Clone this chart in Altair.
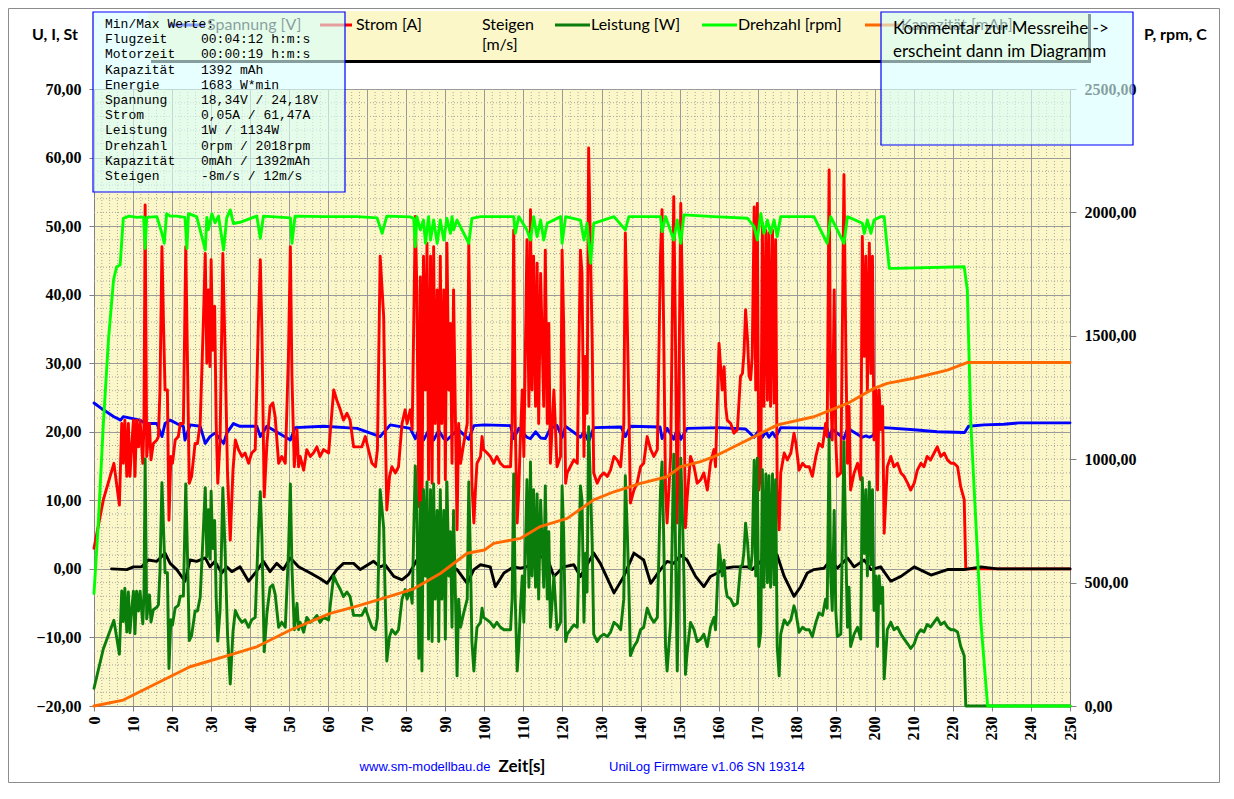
import altair as alt
import pandas as pd

# ---------------- data ----------------
t_strom = [
    0, 2.4, 5.1, 6.5, 7.1, 7.5, 7.9, 8.4, 8.8, 9.2, 9.7, 10.1, 10.5, 10.9, 11.4, 11.8, 12.5, 12.8, 13.1, 13.5,
    14.2, 14.6, 15.2, 16.1, 16.5, 16.9, 17.4, 17.8, 18.2, 18.8, 19.2, 19.7, 20.1, 20.8, 21.6, 22.1, 22.9, 23.5, 24.0, 24.4,
    25.0, 25.9, 26.5, 27.2, 28.0, 28.5, 28.9, 29.3, 29.7, 30.0, 30.4, 30.9, 31.3, 31.7, 32.3, 33.0, 33.6, 34.2, 34.9, 35.6,
    36.2, 37.0, 37.9, 38.7, 39.6, 40.4, 41.3, 42.1, 42.6, 43.0, 43.6, 44.3, 45.1, 45.8, 46.4, 47.3, 48.1, 49.0, 49.8, 50.3,
    50.7, 51.3, 52.0, 52.4, 52.8, 53.7, 54.5, 55.4, 56.2, 57.1, 57.9, 58.8, 60.1, 60.7, 61.4, 62.2, 63.1, 63.9, 64.8, 65.6,
    66.5, 67.4, 68.6, 69.5, 70.3, 71.2, 72.1, 72.6, 73.3, 73.8, 74.2, 74.6, 75.0, 75.7, 76.3, 77.2, 78.0, 78.9, 79.7, 80.2,
    81.0, 81.5, 81.9, 82.3, 82.7, 83.2, 83.6, 84.0, 84.4, 84.9, 85.3, 85.7, 86.2, 86.6, 87.0, 87.4, 87.9, 88.3, 88.7, 89.1,
    89.6, 90.0, 90.4, 90.9, 91.3, 91.7, 92.1, 92.6, 93.0, 93.4, 93.9, 94.7, 95.6, 96.0, 96.4, 96.8, 97.3, 97.7, 98.1, 99.0,
    99.4, 99.8, 100.7, 101.5, 102.4, 103.2, 104.1, 105.0, 105.8, 106.7, 107.1, 107.5, 107.9, 108.4, 108.8, 109.2, 109.7, 110.1, 110.9, 111.4,
    111.8, 112.2, 112.6, 113.1, 113.5, 113.9, 114.4, 115.2, 115.6, 116.1, 116.5, 116.9, 117.8, 118.6, 119.5, 119.9, 120.3, 120.8, 121.2, 122.0,
    122.9, 123.8, 124.6, 125.0, 125.5, 125.9, 126.3, 126.7, 127.2, 127.6, 128.0, 128.9, 129.7, 130.6, 131.5, 132.3, 133.2, 134.0, 134.9, 135.7,
    136.1, 136.6, 137.0, 137.4, 138.3, 139.1, 140.0, 140.8, 141.7, 142.6, 143.4, 144.3, 145.1, 145.5, 145.9, 146.4, 146.8, 147.7, 148.5, 148.9,
    149.4, 149.8, 150.3, 150.7, 151.1, 151.5, 151.9, 152.8, 153.7, 154.5, 155.4, 156.2, 157.1, 157.9, 158.8, 159.2, 160.1, 160.5, 160.9, 161.4,
    161.8, 162.2, 163.1, 163.9, 164.8, 165.2, 165.6, 166.1, 166.5, 166.9, 167.4, 167.8, 168.2, 168.6, 169.1, 169.5, 169.9, 170.3, 170.8, 171.2,
    171.6, 172.1, 172.5, 172.9, 173.3, 173.8, 174.2, 174.6, 175.0, 175.5, 175.9, 176.8, 177.6, 178.5, 179.3, 179.8, 180.6, 181.5, 182.3, 183.2,
    184.0, 184.9, 185.7, 186.6, 187.4, 187.8, 188.3, 188.7, 189.1, 189.6, 190.0, 190.4, 191.3, 192.1, 192.6, 193.0, 193.4, 193.8, 194.7, 195.6,
    196.4, 196.8, 197.3, 197.7, 198.1, 198.6, 199.0, 199.4, 199.8, 200.3, 200.7, 201.1, 201.6, 202.0, 202.4, 203.2, 204.1, 204.9, 205.8, 206.7,
    207.5, 208.4, 209.2, 210.1, 210.9, 211.8, 212.6, 213.4, 214.3, 215.2, 216.0, 216.9, 217.8, 218.6, 219.5, 220.3, 221.2, 222.0, 222.9, 223.3,
    237.0, 250.0]

strom = [
    3.0, 10.1, 15.4, 9.3, 21.2, 15.4, 21.7, 13.5, 21.2, 13.5, 18.3, 21.7, 13.5, 21.7, 17.8, 21.7, 15.4, 21.2, 53.1, 16.4,
    21.2, 15.9, 18.3, 18.8, 19.3, 26.1, 47.0, 35.8, 26.1, 26.1, 7.1, 16.4, 15.4, 18.8, 19.3, 21.2, 21.2, 47.0, 28.1, 12.5,
    13.5, 18.3, 18.3, 21.2, 35.8, 46.0, 30.0, 40.7, 29.5, 45.1, 31.9, 38.3, 21.2, 12.5, 18.8, 46.0, 31.0, 14.0, 4.2, 14.4,
    18.8, 17.4, 16.4, 16.9, 15.4, 16.9, 17.4, 35.8, 45.1, 34.9, 10.5, 18.3, 23.7, 24.2, 22.2, 15.4, 16.4, 15.4, 31.0, 47.0,
    28.1, 14.9, 20.3, 14.9, 16.4, 14.4, 17.4, 16.4, 16.9, 17.8, 16.4, 17.4, 16.9, 21.2, 26.1, 24.6, 23.2, 21.7, 22.7, 21.7,
    17.8, 17.8, 17.8, 19.3, 17.4, 15.4, 14.9, 17.4, 45.6, 40.7, 36.8, 21.2, 8.6, 13.5, 14.9, 14.0, 14.9, 21.2, 23.2, 21.2,
    23.2, 20.3, 35.8, 51.4, 40.7, 9.1, 42.6, 6.7, 45.6, 26.1, 47.5, 13.0, 45.6, 12.5, 47.0, 21.2, 40.7, 12.5, 45.6, 21.2,
    40.7, 13.0, 47.5, 26.1, 35.8, 15.4, 40.7, 21.2, 5.7, 21.2, 15.4, 18.3, 21.2, 47.5, 31.0, 12.5, 6.7, 11.5, 15.4, 16.4,
    19.3, 17.4, 16.9, 16.4, 15.4, 16.4, 15.4, 14.9, 14.9, 14.9, 21.2, 49.4, 21.2, 6.7, 11.5, 18.8, 26.1, 16.4, 48.0, 23.7,
    52.4, 26.1, 45.6, 23.7, 44.6, 21.2, 43.1, 23.7, 46.5, 21.2, 35.8, 15.4, 26.1, 14.9, 16.4, 46.5, 35.8, 12.5, 14.0, 14.9,
    15.9, 15.4, 46.5, 43.1, 16.4, 31.0, 22.7, 61.4, 45.6, 33.4, 14.0, 12.5, 13.5, 14.0, 13.5, 14.4, 16.4, 15.9, 14.9, 21.2,
    49.0, 35.8, 23.7, 9.6, 11.5, 12.5, 14.9, 15.4, 19.3, 17.4, 16.4, 17.4, 45.6, 52.4, 35.8, 11.5, 6.7, 16.4, 54.3, 35.8,
    6.7, 26.1, 53.3, 40.7, 26.1, 6.0, 10.1, 16.4, 14.9, 12.5, 13.0, 14.0, 11.5, 15.4, 17.4, 14.9, 32.9, 29.5, 26.1, 29.5,
    23.7, 21.7, 21.2, 19.8, 20.3, 24.2, 28.1, 28.5, 31.5, 37.8, 33.4, 28.1, 27.6, 31.0, 52.8, 26.1, 53.3, 11.5, 14.4, 50.4,
    23.7, 49.4, 24.6, 49.0, 23.7, 49.4, 24.2, 48.0, 11.5, 5.7, 14.0, 16.9, 15.9, 16.9, 19.8, 18.3, 14.4, 15.4, 14.9, 14.9,
    13.5, 16.4, 18.3, 17.8, 21.2, 19.3, 58.2, 26.1, 18.8, 40.7, 18.8, 13.5, 14.0, 57.5, 31.0, 15.4, 23.7, 11.5, 14.0, 15.4,
    13.0, 48.5, 31.0, 45.6, 26.1, 47.5, 28.5, 45.6, 18.8, 26.1, 11.5, 26.1, 20.3, 23.7, 5.2, 14.9, 16.4, 14.9, 15.4, 14.0,
    13.5, 12.5, 11.5, 12.5, 14.4, 15.4, 14.9, 16.4, 15.9, 16.9, 17.8, 16.4, 16.9, 15.9, 15.4, 15.4, 14.9, 12.0, 10.1, 0.0,
    0.0, 0.0]

leistung = [
    72, 232, 347, 210, 466, 342, 477, 300, 462, 297, 399, 465, 293, 465, 385, 465, 333, 452, 1001, 353,
    450, 340, 390, 400, 410, 545, 905, 720, 540, 540, 152, 350, 328, 398, 408, 445, 445, 900, 575, 265,
    285, 385, 385, 440, 710, 885, 605, 795, 595, 870, 638, 752, 436, 263, 390, 884, 620, 292, 89, 300,
    387, 359, 339, 349, 319, 349, 359, 706, 868, 689, 220, 377, 481, 491, 453, 319, 339, 319, 618, 900,
    565, 309, 416, 309, 339, 299, 359, 339, 349, 367, 339, 359, 349, 433, 527, 499, 472, 443, 462, 443,
    367, 367, 367, 396, 359, 319, 309, 359, 876, 792, 723, 433, 182, 281, 309, 291, 309, 433, 472, 433,
    472, 416, 706, 973, 792, 193, 825, 142, 876, 527, 908, 271, 876, 261, 900, 433, 792, 261, 876, 433,
    792, 271, 908, 527, 706, 319, 792, 433, 122, 433, 319, 377, 433, 908, 618, 261, 142, 241, 319, 339,
    396, 359, 349, 339, 319, 339, 319, 309, 309, 309, 433, 940, 433, 142, 241, 387, 527, 339, 917, 481,
    989, 527, 876, 481, 859, 433, 834, 481, 892, 433, 706, 319, 527, 309, 339, 892, 706, 261, 291, 309,
    329, 319, 892, 834, 339, 618, 462, 1132, 876, 662, 291, 261, 281, 291, 281, 299, 339, 329, 309, 433,
    933, 706, 481, 204, 241, 261, 309, 319, 396, 359, 339, 359, 876, 989, 706, 241, 142, 339, 1020, 706,
    142, 527, 1004, 792, 527, 128, 212, 339, 309, 261, 271, 291, 241, 319, 359, 309, 653, 591, 527, 591,
    481, 443, 433, 406, 416, 491, 565, 572, 628, 741, 662, 565, 555, 618, 996, 527, 1004, 241, 299, 957,
    481, 940, 499, 933, 481, 940, 491, 917, 241, 122, 291, 349, 329, 349, 406, 377, 299, 319, 309, 309,
    281, 339, 377, 367, 433, 396, 1082, 527, 387, 792, 387, 281, 291, 1071, 618, 319, 481, 241, 291, 319,
    271, 925, 618, 876, 527, 908, 572, 876, 387, 527, 241, 527, 416, 481, 110, 309, 339, 309, 319, 291,
    272, 252, 233, 252, 290, 309, 300, 330, 320, 340, 357, 330, 340, 320, 309, 309, 300, 242, 204, 0,
    0, 0]

t_drehzahl = [
    0, 1.1, 2.4, 3.7, 5.0, 5.8, 6.7, 7.5, 9.0, 11.0, 12.7, 13.1, 13.5, 16.1, 17.4, 18.0, 18.6, 19.5, 21.2, 23.3,
    23.8, 24.2, 26.3, 28.5, 28.9, 29.3, 30.2, 31.0, 31.9, 33.2, 34.0, 34.9, 35.7, 37.4, 41.7, 42.6, 43.4, 50.3, 50.7, 51.5,
    58.8, 67.4, 72.5, 73.8, 75.0, 81.0, 81.9, 82.3, 82.7, 83.6, 84.4, 84.9, 85.7, 86.2, 87.0, 87.9, 88.7, 89.6, 90.4, 91.3,
    91.7, 92.1, 93.0, 96.0, 96.8, 99.0, 107.5, 107.9, 108.8, 110.9, 111.8, 112.6, 113.5, 114.4, 115.2, 116.1, 119.5, 119.9, 120.8, 124.6,
    125.5, 126.3, 127.2, 128.0, 133.2, 136.1, 137.0, 145.1, 145.5, 146.4, 148.5, 149.4, 150.3, 151.1, 158.8, 167.4, 169.1, 169.9, 170.8, 171.6,
    172.5, 173.3, 174.2, 175.0, 175.9, 184.4, 187.8, 188.7, 192.1, 193.0, 196.8, 197.3, 198.1, 199.0, 199.8, 201.5, 202.4, 203.7, 205.0, 222.9,
    223.7, 224.6, 227.2, 228.9, 250]
drehzahl = [
    456, 740, 1145, 1483, 1726, 1780, 1787, 1976, 1985, 1980, 1982, 1854, 1980, 1983, 1915, 1875, 1995, 1985, 1985, 1980,
    1854, 1995, 1983, 1848, 1980, 1930, 1995, 1958, 1985, 1848, 1978, 2010, 1955, 1960, 1985, 1895, 1985, 1978, 1875, 1985,
    1983, 1983, 1978, 1915, 1985, 1982, 1976, 1861, 1983, 1929, 1969, 1875, 1983, 1888, 1969, 1875, 1969, 1888, 1976, 1915,
    1983, 1929, 1969, 1875, 1976, 1983, 1983, 1915, 1983, 1929, 1888, 1983, 1902, 1969, 1888, 1956, 1983, 1875, 1983, 1969,
    1888, 1956, 1794, 1956, 1983, 1929, 1983, 1983, 1922, 1983, 1888, 1969, 1875, 1990, 1983, 1976, 1942, 1888, 1996, 1915,
    1969, 1915, 1969, 1902, 1983, 1983, 1875, 1983, 1875, 1983, 1956, 1915, 1969, 1915, 1969, 1983, 1983, 1773, 1773, 1780,
    1686, 1145, 335, 0, 0]

t_spannung = [
    0, 2.4, 5.1, 6.8, 7.5, 11.8, 13.1, 16.1, 17.4, 18.2, 19.5, 21.2, 22.9, 23.3, 24.6, 27.2, 28.5, 29.7, 31.0, 33.2,
    34.0, 35.7, 37.4, 41.7, 42.6, 44.3, 50.3, 51.5, 58.8, 67.4, 73.3, 75.9, 81.0, 82.3, 83.2, 84.4, 85.7, 87.0, 88.3, 89.6,
    90.4, 92.6, 93.0, 96.0, 97.3, 100, 106.7, 107.5, 108.8, 110.9, 111.8, 113.1, 114.4, 115.6, 116.9, 118.6, 119.9, 120.8, 124.6, 125.5,
    126.7, 128, 135, 136.1, 137.4, 145, 145.5, 146.8, 148.5, 149.4, 150.3, 151.9, 160, 166.9, 169.1, 170.3, 171.2, 172.1, 172.9, 173.8,
    174.6, 175.9, 187.8, 188.3, 189.1, 192.1, 193, 196.8, 197.7, 198.6, 199.4, 200.7, 202.4, 210, 216, 223, 224, 228, 233, 237,
    250]
spannung = [
    24.2, 23.2, 22.2, 21.7, 22.2, 21.7, 21.2, 21.2, 19.3, 21.2, 21.7, 21.2, 20.8, 18.8, 21.0, 20.8, 18.3, 19.3, 19.8, 18.3,
    19.8, 21.2, 20.8, 20.8, 19.3, 20.8, 18.8, 20.6, 20.8, 20.5, 19.3, 21.0, 20.5, 19.0, 20.3, 18.8, 20.2, 18.8, 20.2, 19.0,
    18.8, 20.0, 20.5, 18.9, 20.9, 21.0, 20.9, 19.0, 20.5, 19.2, 19.0, 20.0, 19.1, 19.0, 20.5, 20.9, 19.2, 20.8, 19.2, 20.0,
    18.6, 20.6, 20.7, 19.3, 20.8, 20.7, 19.0, 20.5, 18.9, 20.4, 18.9, 20.5, 20.6, 20.4, 19.2, 20.2, 19.2, 20.0, 19.2, 19.9,
    19.2, 20.6, 20.5, 19.0, 20.4, 19.0, 20.5, 19.2, 19.4, 19.2, 19.4, 20.4, 20.6, 20.3, 20.0, 19.9, 20.8, 21.0, 21.1, 21.3,
    21.3]

t_steigen = [
    4.5, 8.4, 10.1, 12.2, 13.9, 16.1, 18.2, 19.5, 21.2, 23.3, 24.6, 26.3, 28.5, 29.7, 31.0, 32.7, 34.0, 35.3, 37.4, 39.6,
    41.3, 43.4, 45.1, 46.8, 48.5, 50.3, 52.4, 55.4, 57.9, 59.7, 62.2, 63.9, 66.5, 68.2, 71.6, 73.3, 74.6, 76.8, 78.9, 80.6,
    82.7, 84.4, 87.0, 88.7, 90.4, 93.0, 95.6, 97.3, 99.0, 101.5, 102.8, 105.0, 107.5, 109.2, 110.9, 112.6, 114.4, 116.1, 117.8, 120.3,
    122.9, 124.6, 128.0, 129.7, 133.2, 135.7, 138.3, 140.8, 142.6, 145.1, 146.8, 148.5, 150.3, 151.9, 154.1, 156.2, 157.9, 159.7, 161.4, 163.9,
    167.4, 168.6, 170.8, 173.8, 175.0, 176.8, 179.3, 181.0, 182.7, 184.4, 187.0, 188.7, 190.4, 193.0, 194.7, 197.3, 199.0, 201.5, 204.1, 206.7,
    210.1, 214.4, 218.6, 222.9, 227.2, 231.4, 250]
steigen = [
    0, -0.1, 0.3, 0.3, 1.3, 1.1, 2.3, 0.8, -0.1, -1.8, 1.3, 1.1, 1.6, 0.3, 1.1, -0.6, 0.3, -0.4, 0.3, -1.8,
    -0.6, 1.1, -0.4, 0.8, -0.1, 1.6, 0.3, -0.6, -1.4, -2.1, -0.1, 0.8, 0.8, -0.1, 1.1, 0.3, 0.6, -1.1, -1.6, -0.8,
    1.3, 1.8, 0.8, -0.6, 0.6, -0.1, -2.1, -0.1, 0.6, 0.3, -2.6, -0.6, 0.3, 0.1, 0.3, 1.3, 1.8, 1.6, -1.1, 0.3,
    0.6, -1.1, 2.3, 0.8, -3.5, -1.1, 2.3, 1.3, -2.1, -0.1, 1.1, 0.8, 2.0, 1.3, -1.1, -2.6, -1.1, -0.6, 0.1, 0.3,
    0.3, -0.1, 1.1, 2.8, 2.0, -1.1, -4.0, -2.6, -0.6, -0.1, 0.1, 1.3, 0.1, 1.6, 0.3, 1.3, -0.1, 0.3, -1.8, -1.1,
    0.3, -0.9, -0.1, -0.1, 0.3, 0, 0]

t_kapazitaet = [0, 7.5, 16.1, 24.6, 34.9, 41.7, 50.3, 60.5, 67.4, 75.9, 81.9, 88.7, 95.6, 100, 102.4, 109.2, 114.3,
                121.2, 128, 133.2, 140, 146.8, 150.3, 155.4, 158.8, 167.4, 175.1, 184.4, 193, 199.8, 203.2, 210,
                218.6, 223.8, 250]
kapazitaet = [0, 24, 92, 159, 207, 240, 308, 375, 405, 445, 475, 537, 619, 632, 659, 679, 727,
              760, 835, 868, 902, 929, 970, 990, 1010, 1078, 1139, 1172, 1226, 1287, 1307, 1328,
              1361, 1392, 1392]

x_ticks = list(range(0, 251, 10))
yl_ticks = list(range(-20, 71, 10))
yr_ticks = list(range(0, 2501, 500))

legend_names = ["Spannung [V]", "Strom [A]", "Steigen", "Leistung [W]", "Drehzahl [rpm]", "Kapazität [mAh]"]
minmax_labels = ["Min/Max Werte:", "Flugzeit", "Motorzeit", "Kapazität", "Energie", "Spannung",
                 "Strom", "Leistung", "Drehzahl", "Kapazität", "Steigen"]
minmax_values = ["00:04:12 h:m:s", "00:00:19 h:m:s", "1392 mAh", "1683 W*min", "18,34V / 24,18V",
                 "0,05A / 61,47A", "1W / 1134W", "0rpm / 2018rpm", "0mAh / 1392mAh", "-8m/s / 12m/s"]

# ---------------- layout ----------------
W, H = 976, 617
PL, PT, PR, PB = 86, 81, 150, 77

XS = alt.Scale(domain=[0, 250], nice=False, zero=False)
YL = alt.Scale(domain=[-20, 70], nice=False, zero=False)
YR = alt.Scale(domain=[0, 2500], nice=False, zero=False)
FMT = "replace(format(datum.value, '.2f'), '.', ',')"
SERIF = "Liberation Serif"
SANS = "Lato"
GRID = "#9a9a9a"

x_ax = alt.Axis(values=x_ticks, labelAngle=-90, labelFont=SERIF, labelFontSize=16, labelFontWeight="bold",
                labelColor="#000000", labelPadding=5, tickSize=5, tickColor="#808080", domainColor="#808080",
                grid=True, gridColor=GRID, title=None, labelOverlap=False)
yl_ax = alt.Axis(values=yl_ticks, labelExpr=FMT, labelFont=SERIF, labelFontSize=16, labelFontWeight="bold",
                 labelColor="#000000", labelPadding=8, tickSize=5, tickColor="#808080", domainColor="#808080",
                 grid=True, gridColor=GRID, title=None)
yr_ax = alt.Axis(orient="right", values=yr_ticks, labelExpr=FMT, labelFont=SERIF, labelFontSize=16,
                 labelFontWeight="bold", labelColor="#000000", labelPadding=8, tickSize=6, tickColor="#808080",
                 domainColor="#808080", grid=False, title=None)

minor_t = [v for v in range(0, 251, 2) if v % 10]
minor_v = [v for v in range(-20, 71, 2) if v % 10]
MINOR = dict(color="#a9a9a0", strokeWidth=1, strokeDash=[1, 2])
vminor = alt.Chart(pd.DataFrame({"t": minor_t})).mark_rule(**MINOR).encode(
    x=alt.X("t:Q", scale=XS, axis=x_ax), y=alt.value(0), y2=alt.value(H))
hminor = alt.Chart(pd.DataFrame({"v": minor_v})).mark_rule(**MINOR).encode(
    y=alt.Y("v:Q", scale=YL, axis=yl_ax), x=alt.value(0), x2=alt.value(W))


def series(t, v, color, scale, axis, width=2.9):
    df = pd.DataFrame({"t": t, "v": v})
    return alt.Chart(df).mark_line(color=color, strokeWidth=width, strokeJoin="round", strokeCap="round").encode(
        x=alt.X("t:Q", scale=XS, axis=x_ax), y=alt.Y("v:Q", scale=scale, axis=axis))


c_sp, c_st, c_sg, c_le, c_dr, c_ka = "#0000FF", "#FF0000", "#000000", "#0A7D0A", "#00FF00", "#FF6A00"

left = alt.layer(
    vminor, hminor,
    series(t_spannung, spannung, c_sp, YL, yl_ax),
    series(t_strom, strom, c_st, YL, yl_ax),
    series(t_steigen, steigen, c_sg, YL, yl_ax),
)
right = alt.layer(
    series(t_strom, leistung, c_le, YR, yr_ax),
    series(t_drehzahl, drehzahl, c_dr, YR, yr_ax),
    series(t_kapazitaet, kapazitaet, c_ka, YR, yr_ax),
)
main = alt.layer(left, right).resolve_scale(y="independent")

one = pd.DataFrame({"k": [0]})


def rect(x1, x2, y1, y2, **kw):
    return alt.Chart(one).mark_rect(**kw).encode(x=alt.value(x1), x2=alt.value(x2), y=alt.value(y1), y2=alt.value(y2))


def text(x, y, s, **kw):
    base = dict(align="left", baseline="middle", font=SANS, fontSize=16, color="#000000")
    base.update(kw)
    return alt.Chart(one).mark_text(text=s, **base).encode(x=alt.value(x), y=alt.value(y))


def seg(x1, x2, y, color):
    return alt.Chart(one).mark_rule(color=color, strokeWidth=3).encode(x=alt.value(x1), x2=alt.value(x2), y=alt.value(y))


over = [
    # outer frame
    rect(-PL + 0.5, W + PR - 0.5, -PT + 0.5, H + PB - 0.5, filled=False, stroke="#8c8c8c", strokeWidth=1),
    # legend box with shadow
    rect(57, 997, -75, -26, color="#000000"),
    rect(54, 994, -78, -29, color="#FBF7C9"),
    seg(74, 111, -64, c_sp), text(113, -64, legend_names[0]),
    seg(226, 258, -64, c_st), text(262, -64, legend_names[1]),
    text(388, -64, legend_names[2]), text(388, -44, "[m/s]"),
    seg(461, 496, -64, c_le), text(497, -64, legend_names[3]),
    seg(608, 643, -64, c_dr), text(644, -64, legend_names[4]),
    seg(771, 806, -64, c_ka), text(807, -64, legend_names[5]),
    # Min/Max box
    rect(-1, 251, -77, 103, color="#D8FFFF", opacity=0.62),
    rect(-1, 251, -77, 103, filled=False, stroke="#0000FF", strokeWidth=1.2),
    text(11, -65, minmax_labels, font="Liberation Mono", fontSize=13, lineHeight=15.2),
    text(107, -49.8, minmax_values, font="Liberation Mono", fontSize=13, lineHeight=15.2),
    # comment box
    rect(787, 1039, -77, 56, color="#D8FFFF", opacity=0.62),
    rect(787, 1039, -77, 56, filled=False, stroke="#0000FF", strokeWidth=1.2),
    text(799, -60, "Kommentar  zur  Messreihe  ->", fontSize=17),
    text(799, -37, "erscheint  dann  im  Diagramm", fontSize=17),
    # axis titles
    text(-62, -54, "U, I, St", fontWeight="bold", fontSize=16),
    text(1050, -54, "P, rpm, C", fontWeight="bold", fontSize=16),
    text(428, 678, "Zeit[s]", fontWeight="bold", fontSize=17, align="center"),
    text(331, 678, "www.sm-modellbau.de", font="Liberation Sans", fontSize=13, color="#0000FF", align="center"),
    text(515, 678, "UniLog Firmware v1.06 SN 19314", font="Liberation Sans", fontSize=13, color="#0000FF"),
]

chart = alt.layer(main, *over).properties(
    width=W, height=H,
    padding={"left": PL, "top": PT, "right": PR, "bottom": PB},
    autosize=alt.AutoSizeParams(type="none"),
    background="#FFFFFF",
).configure_view(fill="#FBF7C9", stroke="#8c8c8c")

chart.save("out.html", embed_options={"renderer": "svg", "actions": False})
